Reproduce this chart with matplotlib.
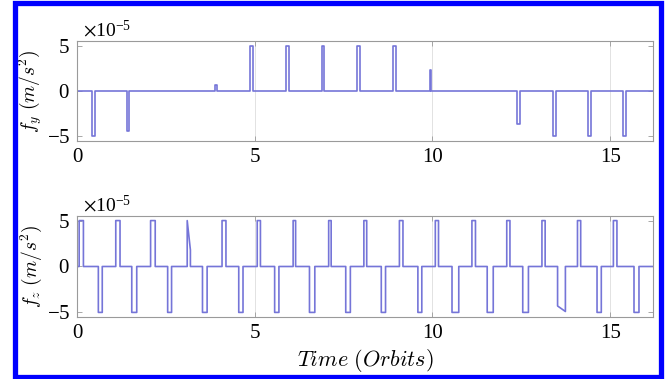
import numpy as np
import matplotlib
matplotlib.use("Agg")
import matplotlib.pyplot as plt
from matplotlib.patches import Rectangle

plt.rcParams['font.family'] = ['Liberation Serif', 'DejaVu Serif']
plt.rcParams['mathtext.fontset'] = 'cm'
plt.rcParams['axes.unicode_minus'] = False

# thrust pulses in units of 1e-5 m/s^2: (t_on, t_off, level at t_on, level at t_off), time in orbits
fy_pulses = [
    (0.42, 0.50, -5.0, -5.0), (1.40, 1.47, -4.4, -4.4), (3.88, 3.95, 0.7, 0.7),
    (4.87, 4.95, 5.0, 5.0), (5.87, 5.95, 5.0, 5.0), (6.88, 6.95, 5.0, 5.0),
    (7.89, 7.97, 5.0, 5.0), (8.90, 8.97, 5.0, 5.0), (9.92, 9.97, 2.3, 2.3),
    (12.37, 12.45, -3.6, -3.6), (13.39, 13.47, -5.0, -5.0), (14.38, 14.46, -5.0, -5.0),
    (15.37, 15.44, -5.0, -5.0),
]
fz_pulses = [
    (0.06, 0.18, 5.0, 5.0), (0.60, 0.71, -5.0, -5.0),
    (1.09, 1.21, 5.0, 5.0), (1.54, 1.68, -5.0, -5.0),
    (2.07, 2.20, 5.0, 5.0), (2.55, 2.66, -5.0, -5.0),
    (3.10, 3.19, 5.0, 1.8), (3.53, 3.66, -5.0, -5.0),
    (4.08, 4.19, 5.0, 5.0), (4.55, 4.67, -5.0, -5.0),
    (5.07, 5.16, 5.0, 5.0), (5.56, 5.68, -5.0, -5.0),
    (6.08, 6.15, 5.0, 5.0), (6.54, 6.69, -5.0, -5.0),
    (7.08, 7.15, 5.0, 5.0), (7.56, 7.69, -5.0, -5.0),
    (8.07, 8.15, 5.0, 5.0), (8.56, 8.68, -5.0, -5.0),
    (9.07, 9.17, 5.0, 5.0), (9.59, 9.70, -5.0, -5.0),
    (10.08, 10.17, 5.0, 5.0), (10.55, 10.74, -5.0, -5.0),
    (11.11, 11.21, 5.0, 5.0), (11.54, 11.71, -5.0, -5.0),
    (12.09, 12.18, 5.0, 5.0), (12.54, 12.70, -5.0, -5.0),
    (13.08, 13.17, 5.0, 5.0), (13.52, 13.74, -4.3, -4.9),
    (14.08, 14.17, 5.0, 5.0), (14.63, 14.75, -5.0, -5.0),
    (15.09, 15.19, 5.0, 5.0), (15.67, 15.81, -5.0, -5.0),
]
t_end = 16.2
scale = 1e-5


def pulse_train(pulses):
    t, f = [0.0], [0.0]
    for t0, t1, a0, a1 in pulses:
        t += [t0, t0, t1, t1]
        f += [0.0, a0, a1, 0.0]
    t.append(t_end)
    f.append(0.0)
    return np.array(t), np.array(f) * scale


line_color = '#7575d8'
frame_color = '#9a9a9a'

fig = plt.figure(figsize=(6.68, 3.79), dpi=100)
ax1 = fig.add_axes([0.1153, 0.628, 0.862, 0.2639])
ax2 = fig.add_axes([0.1153, 0.1636, 0.862, 0.2665])

for ax, pulses, lab in [(ax1, fy_pulses, r'$f_y\ (m/s^2)$'),
                        (ax2, fz_pulses, r'$f_z\ (m/s^2)$')]:
    t, f = pulse_train(pulses)
    ax.plot(t, f, color=line_color, lw=1.2)
    ax.set_xlim(0, t_end)
    ax.set_ylim(-5.5e-5, 5.5e-5)
    ax.set_xticks([0, 5, 10, 15])
    ax.set_yticks([-5e-5, 0, 5e-5])
    ax.ticklabel_format(axis='y', style='sci', scilimits=(0, 0), useMathText=True)
    ax.tick_params(direction='in', top=True, right=True, length=3.5, width=0.6,
                   color=frame_color, labelsize=15, pad=5)
    ax.grid(axis='x', color='#e2e2e2', lw=0.7)
    for s in ax.spines.values():
        s.set_color(frame_color)
        s.set_linewidth(0.8)
    ax.set_ylabel(lab, fontsize=14)
    ax.yaxis.set_label_coords(-0.058, 0.5)
    off = ax.yaxis.get_offset_text()
    off.set_fontsize(14)
    off.set_math_fontfamily('stix')
    off.set_x(0.01)

ax2.set_xlabel(r'$Time\ (Orbits)$', fontsize=16, labelpad=3)

# blue frame around the figure
fig.patches.append(Rectangle((14.5 / 668, 2.0 / 379), 646 / 668, 374 / 379,
                             transform=fig.transFigure, fill=False,
                             edgecolor='#0000ff', lw=3.8))

fig.savefig('out.png', dpi=100)
